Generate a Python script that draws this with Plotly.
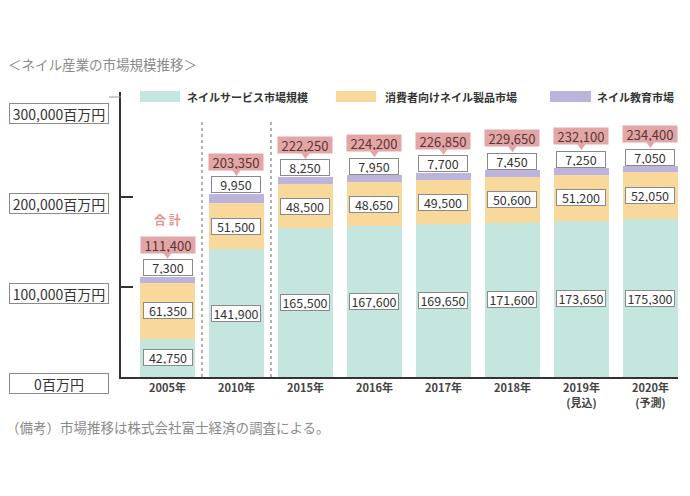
import plotly.graph_objects as go

categories = ["2005年", "2010年", "2015年", "2016年", "2017年", "2018年", "2019年<br>(見込)", "2020年<br>(予測)"]
service = [42750, 141900, 165500, 167600, 169650, 171600, 173650, 175300]
products = [61350, 51500, 48500, 48650, 49500, 50600, 51200, 52050]
education = [7300, 9950, 8250, 7950, 7700, 7450, 7250, 7050]
totals = [111400, 203350, 222250, 224200, 226850, 229650, 232100, 234400]
series_names = ["ネイルサービス市場規模", "消費者向けネイル製品市場", "ネイル教育市場"]
ytick_vals = [0, 100000, 200000, 300000]
ytick_text = ["0百万円", "100,000百万円", "200,000百万円", "300,000百万円"]

C_TEAL = "#c5e6de"
C_ORANGE = "#f9d89b"
C_PURPLE = "#bdb4dd"
C_PINK = "#e3a6a6"
FONT = "Noto Sans CJK JP"

L, R, T, B = 121, 12, 92, 119
W, H = 690, 496
PW, PH = W - L - R, H - T - B


def px(x):
    return (x - L) / PW


def py(y):
    return (H - B - y) / PH


x = list(range(len(categories)))
fig = go.Figure()
for vals, col, name in [(service, C_TEAL, series_names[0]), (products, C_ORANGE, series_names[1]),
                        (education, C_PURPLE, series_names[2])]:
    fig.add_trace(go.Bar(x=x, y=vals, name=name, marker=dict(color=col, line=dict(width=0)),
                         showlegend=False, hoverinfo="skip"))

ann = []
shapes = []
box = dict(bgcolor="white", bordercolor="#8a8a8a", borderwidth=1, borderpad=1,
           font=dict(family=FONT, size=12.5, color="#333"), width=46, height=13, showarrow=False)
for i in x:
    ann.append(dict(x=i, y=service[i] / 2, text=f"{service[i]:,}", **box))
    ann.append(dict(x=i, y=service[i] + products[i] / 2, text=f"{products[i]:,}", **box))
    top = service[i] + products[i] + education[i]
    ann.append(dict(x=i, y=top, yshift=9, text=f"{education[i]:,}", **box))
    # pointer of the total bubble
    shapes.append(dict(type="path", xref="x", yref="y", xsizemode="pixel", ysizemode="pixel",
                       xanchor=i, yanchor=top, path="M-5,25 L5,25 L0,18 Z",
                       fillcolor=C_PINK, line=dict(width=0)))
    ann.append(dict(x=i, y=top, yshift=32, text=f"{totals[i]:,}", showarrow=False,
                    bgcolor=C_PINK, borderpad=1, width=52, height=14,
                    font=dict(family=FONT, size=13, color="#5a3434")))
    if i == 0:
        ann.append(dict(x=i, y=top, yshift=57, text="<b>合 計</b>", showarrow=False,
                        font=dict(family=FONT, size=12, color="#e8918f")))

# boxed y tick labels
for v, t in zip(ytick_vals, ytick_text):
    ann.append(dict(xref="paper", yref="y", x=px(59), y=v, yshift=-6, xanchor="center", yanchor="middle",
                    text=t, showarrow=False,
                    bgcolor="white", bordercolor="#8a8a8a", borderwidth=1, borderpad=1,
                    width=96, height=17, font=dict(family=FONT, size=14, color="#333")))

# legend
leg = [(140, 180, 185, C_TEAL, series_names[0]), (336, 376, 383, C_ORANGE, series_names[1]),
       (550, 591, 595, C_PURPLE, series_names[2])]
for x0, x1, tx, col, name in leg:
    shapes.append(dict(type="rect", xref="paper", yref="paper", x0=px(x0), x1=px(x1),
                       y0=py(102), y1=py(91), fillcolor=col, line=dict(width=0)))
    ann.append(dict(xref="paper", yref="paper", x=px(tx), y=py(97), xanchor="left", yanchor="middle",
                    text=f"<b>{name}</b>", showarrow=False, font=dict(family=FONT, size=11, color="#333")))

# dotted separators
for xv in [0.5, 1.5]:
    shapes.append(dict(type="line", xref="x", yref="paper", x0=xv, x1=xv, y0=0, y1=py(122),
                       line=dict(color="#9a9a9a", width=1.5, dash="dot")))
# connector from 300,000 label to axis
shapes.append(dict(type="line", xref="paper", yref="paper", x0=px(109), x1=px(121), y0=py(97), y1=py(97),
                   line=dict(color="#9a9a9a", width=1)))

ann.append(dict(xref="paper", yref="paper", x=px(6), y=py(64), xanchor="left", yanchor="middle",
                text="＜ネイル産業の市場規模推移＞", showarrow=False,
                font=dict(family=FONT, size=13.5, color="#8a8a8a")))
ann.append(dict(xref="paper", yref="paper", x=px(4), y=py(427), xanchor="left", yanchor="middle",
                text="（備考）市場推移は株式会社富士経済の調査による。", showarrow=False,
                font=dict(family=FONT, size=13.5, color="#8a8a8a")))

fig.update_layout(
    barmode="stack", bargap=0.2, width=W, height=H,
    margin=dict(l=L, r=R, t=T, b=B, autoexpand=False),
    paper_bgcolor="white", plot_bgcolor="white",
    annotations=ann, shapes=shapes,
    font=dict(family=FONT),
)
fig.update_xaxes(range=[-0.674, 7.4], tickvals=x, ticktext=[f"<b>{c}</b>" for c in categories],
                 tickfont=dict(family=FONT, size=11, color="#444"), showline=True, linecolor="#333",
                 linewidth=2, ticks="", showgrid=False, zeroline=False)
fig.update_yaxes(range=[0, PH / 0.0009], tickvals=[100000, 200000], showticklabels=False,
                 ticks="inside", ticklen=12, tickwidth=2, tickcolor="#333",
                 showline=True, linecolor="#333", linewidth=2, showgrid=False, zeroline=False)
fig.write_html("out.html", config={"displayModeBar": False},
               post_script="document.body.style.margin='0';document.body.style.overflow='hidden';")
